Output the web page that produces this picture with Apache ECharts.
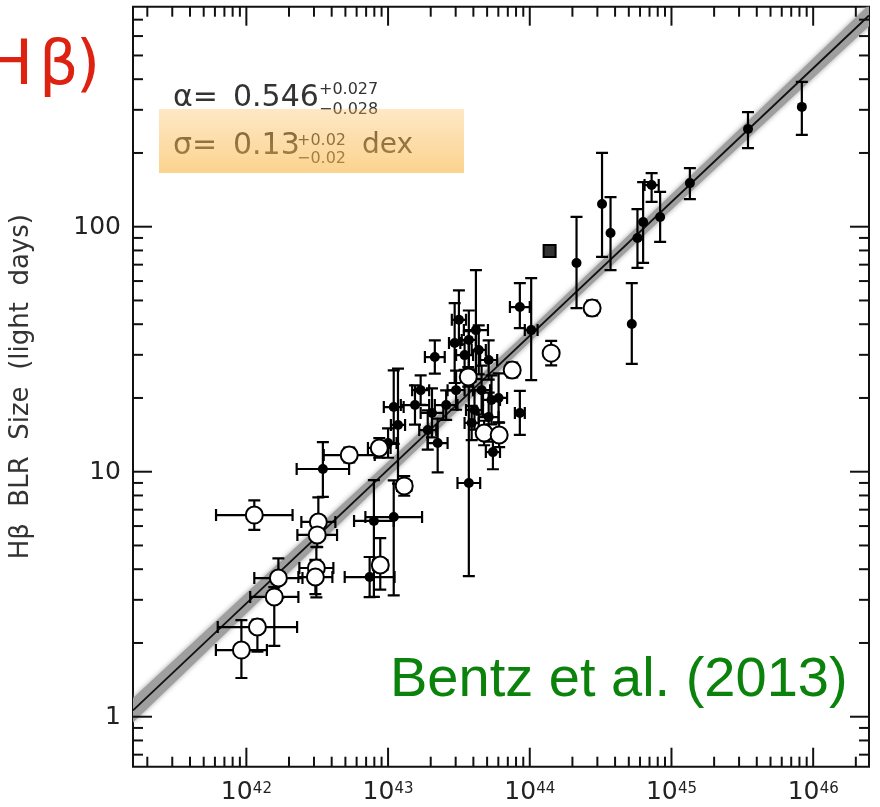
<!DOCTYPE html>
<html>
<head>
<meta charset="utf-8">
<title>Hβ BLR size – luminosity relation</title>
<script src="https://cdn.jsdelivr.net/npm/echarts@6/dist/echarts.min.js"></script>
<style>
  html, body { margin: 0; padding: 0; background: #fff; }
  #chart { width: 880px; height: 807px; }
</style>
</head>
<body>
<div id="chart"></div>
<script>
// Axis extents, in log10 units
const LOG_L_MIN = 41.2, LOG_L_MAX = 46.394;
const LOG_R_MIN = -0.204, LOG_R_MAX = 2.898;

// Tick labels
const xTickExponents = [42, 43, 44, 45, 46];
const yTickLogValues = [0, 1, 2];
const yTickLabels = ['1', '10', '100'];

// Measurements: [log L, ±dex in L, log R (light days), dex below, dex above]
const filledPoints = [
  [45.92, 0.00, 2.489, 0.114, 0.102],
  [45.54, 0.00, 2.399, 0.078, 0.069],
  [45.13, 0.00, 2.178, 0.065, 0.061],
  [44.92, 0.00, 2.040, 0.102, 0.102],
  [44.86, 0.05, 2.170, 0.069, 0.049],
  [44.80, 0.00, 2.019, 0.167, 0.163],
  [44.76, 0.00, 1.954, 0.122, 0.118],
  [44.57, 0.00, 1.974, 0.151, 0.147],
  [44.51, 0.00, 2.093, 0.216, 0.208],
  [44.33, 0.00, 1.852, 0.184, 0.188],
  [44.72, 0.00, 1.603, 0.163, 0.167],
  [43.93, 0.07, 1.672, 0.086, 0.098],
  [44.01, 0.045, 1.578, 0.204, 0.212],
  [43.93, 0.035, 1.240, 0.090, 0.090],
  [42.54, 0.185, 1.011, 0.114, 0.110],
  [42.90, 0.14, 0.799, 0.310, 0.167],
  [43.04, 0.20, 0.815, 0.320, 0.150],
  [42.87, 0.176, 0.570, 0.082, 0.082],
  [43.04, 0.07, 1.264, 0.150, 0.150],
  [43.33, 0.07, 1.468, 0.068, 0.068],
  [43.47, 0.04, 1.525, 0.163, 0.163],
  [43.62, 0.085, 1.578, 0.200, 0.245],
  [43.57, 0.05, 1.538, 0.120, 0.120],
  [43.64, 0.05, 1.497, 0.100, 0.100],
  [43.71, 0.06, 1.456, 0.080, 0.080],
  [43.54, 0.06, 1.476, 0.060, 0.060],
  [43.66, 0.06, 1.333, 0.100, 0.100],
  [43.61, 0.06, 1.252, 0.080, 0.080],
  [43.71, 0.07, 1.223, 0.100, 0.100],
  [43.59, 0.05, 1.199, 0.070, 0.070],
  [43.73, 0.06, 1.293, 0.100, 0.100],
  [43.57, 0.08, 0.954, 0.380, 0.620],
  [43.19, 0.10, 1.272, 0.080, 0.080],
  [43.31, 0.08, 1.240, 0.100, 0.100],
  [43.28, 0.06, 1.170, 0.080, 0.080],
  [43.35, 0.07, 1.117, 0.120, 0.100],
  [43.00, 0.06, 1.117, 0.060, 0.060],
  [43.07, 0.05, 1.191, 0.240, 0.230],
  [43.78, 0.06, 1.301, 0.100, 0.100],
  [43.74, 0.05, 1.080, 0.070, 0.070],
  [43.48, 0.06, 1.333, 0.080, 0.080],
  [43.41, 0.08, 1.272, 0.060, 0.060],
  [43.23, 0.06, 1.333, 0.060, 0.060],
  [43.50, 0.05, 1.620, 0.100, 0.120]
];

const openPoints = [
  [41.965, 0.18, 0.272, 0.114, 0.122],
  [42.078, 0.28, 0.366, 0.100, 0.030],
  [42.226, 0.17, 0.566, 0.080, 0.080],
  [42.197, 0.17, 0.489, 0.200, 0.040],
  [42.056, 0.27, 0.823, 0.060, 0.060],
  [42.508, 0.12, 0.795, 0.060, 0.100],
  [42.500, 0.14, 0.742, 0.050, 0.050],
  [42.494, 0.12, 0.607, 0.120, 0.086],
  [42.487, 0.12, 0.570, 0.070, 0.070],
  [42.945, 0.05, 0.619, 0.100, 0.110],
  [42.726, 0.18, 1.068, 0.030, 0.030],
  [42.938, 0.08, 1.097, 0.040, 0.040],
  [43.114, 0.05, 0.942, 0.040, 0.040],
  [43.566, 0.05, 1.387, 0.040, 0.040],
  [43.678, 0.04, 1.158, 0.050, 0.050],
  [43.784, 0.04, 1.150, 0.050, 0.050],
  [43.876, 0.03, 1.415, 0.030, 0.030],
  [44.151, 0.03, 1.484, 0.050, 0.050],
  [44.440, 0.03, 1.668, 0.030, 0.030]
];

const squarePoints = [
  [44.14, 0.02, 1.901, 0.02, 0.02]
];

// Best fit: log R = K + alpha * (log L - 44)
const fitAlpha = 0.546;
const fitK = 1.555;
const fitLogL = [LOG_L_MIN, LOG_L_MAX];
// Shaded uncertainty around the fit (half width in dex)
const bandLogL = [41.2, 42.0, 43.0, 44.0, 45.0, 46.0, 46.4];
const bandHalfWidth = [0.05, 0.042, 0.032, 0.026, 0.032, 0.04, 0.044];

const fitAt = l => fitK + fitAlpha * (l - 44);

// ---- tick positions (major at decades, minor at 2..9) ----
function decadeTicks(axisId, lo, hi) {
  const rows = [];
  for (let d = Math.floor(lo) - 1; d <= Math.ceil(hi); d++) {
    for (let k = 1; k <= 9; k++) {
      const v = d + Math.log10(k);
      if (v >= lo - 1e-9 && v <= hi + 1e-9) rows.push([axisId, v, k === 1 ? 1 : 0]);
    }
  }
  return rows;
}
const tickRows = decadeTicks(0, LOG_L_MIN, LOG_L_MAX).concat(decadeTicks(1, LOG_R_MIN, LOG_R_MAX));

const FONT = '"DejaVu Sans", "Liberation Sans", sans-serif';

function renderTick(params, api) {
  const cs = params.coordSys;
  const axisId = api.value(0), v = api.value(1), major = api.value(2);
  const len = major ? 19 : 10;
  const st = { stroke: '#111', lineWidth: 2 };
  if (axisId === 0) {
    const x = api.coord([v, LOG_R_MIN])[0];
    const yb = cs.y + cs.height, yt = cs.y;
    return { type: 'group', children: [
      { type: 'line', shape: { x1: x, y1: yb, x2: x, y2: yb - len }, style: st },
      { type: 'line', shape: { x1: x, y1: yt, x2: x, y2: yt + len }, style: st }
    ]};
  }
  const y = api.coord([LOG_L_MIN, v])[1];
  const xl = cs.x, xr = cs.x + cs.width;
  return { type: 'group', children: [
    { type: 'line', shape: { x1: xl, y1: y, x2: xl + len, y2: y }, style: st },
    { type: 'line', shape: { x1: xr, y1: y, x2: xr - len, y2: y }, style: st }
  ]};
}

function renderXLabel(params, api) {
  const e = api.value(0);
  const p = api.coord([e, LOG_R_MIN]);
  return { type: 'group', children: [
    { type: 'text', x: p[0] - 25.5, y: p[1] + 26,
      style: { text: '10', font: '25px ' + FONT, fill: '#222', align: 'left', verticalAlign: 'middle' } },
    { type: 'text', x: p[0] + 6.5, y: p[1] + 22,
      style: { text: String(e), font: '15px ' + FONT, fill: '#222', align: 'left', verticalAlign: 'middle' } }
  ]};
}

function renderYLabel(params, api) {
  const v = api.value(0);
  const p = api.coord([LOG_L_MIN, v]);
  return { type: 'text', x: p[0] - 12, y: p[1] + 1,
    style: { text: yTickLabels[params.dataIndex], font: '25px ' + FONT, fill: '#222', align: 'right', verticalAlign: 'middle' } };
}

function renderErrorBar(params, api) {
  const x = api.value(0), dx = api.value(1), y = api.value(2), lo = api.value(3), hi = api.value(4);
  const c = api.coord([x, y]);
  const st = { stroke: '#000', lineWidth: 2.2 };
  const cap = 6;
  const kids = [];
  if (lo > 0 || hi > 0) {
    const t = api.coord([x, y + hi])[1], b = api.coord([x, y - lo])[1];
    kids.push({ type: 'line', shape: { x1: c[0], y1: t, x2: c[0], y2: b }, style: st });
    kids.push({ type: 'line', shape: { x1: c[0] - cap, y1: t, x2: c[0] + cap, y2: t }, style: st });
    kids.push({ type: 'line', shape: { x1: c[0] - cap, y1: b, x2: c[0] + cap, y2: b }, style: st });
  }
  if (dx > 0) {
    const l = api.coord([x - dx, y])[0], r = api.coord([x + dx, y])[0];
    kids.push({ type: 'line', shape: { x1: l, y1: c[1], x2: r, y2: c[1] }, style: st });
    kids.push({ type: 'line', shape: { x1: l, y1: c[1] - cap, x2: l, y2: c[1] + cap }, style: st });
    kids.push({ type: 'line', shape: { x1: r, y1: c[1] - cap, x2: r, y2: c[1] + cap }, style: st });
  }
  return { type: 'group', children: kids };
}

const bandRows = bandLogL.map((l, i) => [l, fitAt(l) - bandHalfWidth[i], fitAt(l) + bandHalfWidth[i]]);
function renderBand(params, api) {
  if (params.dataIndex !== 0) return null;
  const upper = bandRows.map(r => api.coord([r[0], r[2]]));
  const lower = bandRows.map(r => api.coord([r[0], r[1]])).reverse();
  return { type: 'polygon', shape: { points: upper.concat(lower) },
    style: { fill: '#9f9f9f', shadowBlur: 5, shadowColor: 'rgba(150,150,150,0.9)' } };
}

const chart = echarts.init(document.getElementById('chart'), null, { renderer: 'canvas' });

const option = {
  animation: false,
  backgroundColor: '#fff',
  grid: { left: 131.7, right: 11, top: 6.7, bottom: 40.3, show: true, borderColor: '#111', borderWidth: 2, backgroundColor: 'transparent' },
  xAxis: {
    type: 'value', min: LOG_L_MIN, max: LOG_L_MAX,
    axisLine: { show: false }, axisTick: { show: false }, axisLabel: { show: false }, splitLine: { show: false }
  },
  yAxis: {
    type: 'value', min: LOG_R_MIN, max: LOG_R_MAX,
    name: 'Hβ  BLR  Size  (light  days)', nameLocation: 'middle', nameGap: 99,
    nameTextStyle: { fontFamily: 'DejaVu Sans', fontSize: 26, color: '#333' },
    axisLine: { show: false }, axisTick: { show: false }, axisLabel: { show: false }, splitLine: { show: false }
  },
  series: [
    { type: 'custom', name: 'band', renderItem: renderBand, data: bandRows, clip: true, silent: true, z: 1,
      encode: { x: 0, y: [1, 2] } },
    { type: 'line', name: 'fit', data: fitLogL.map(l => [l, fitAt(l)]), showSymbol: false, silent: true, z: 2,
      lineStyle: { color: '#111', width: 1.8 }, clip: true },
    { type: 'custom', name: 'errors', renderItem: renderErrorBar, silent: true, z: 3, clip: true,
      data: filledPoints.concat(openPoints, squarePoints), encode: { x: 0, y: 2 } },
    { type: 'scatter', name: 'filled', data: filledPoints.map(r => [r[0], r[2]]), symbol: 'circle', symbolSize: 10,
      itemStyle: { color: '#000', opacity: 1 }, silent: true, z: 4 },
    { type: 'scatter', name: 'open', data: openPoints.map(r => [r[0], r[2]]), symbol: 'circle', symbolSize: 17,
      itemStyle: { color: '#fff', borderColor: '#000', borderWidth: 2, opacity: 1 }, silent: true, z: 5 },
    { type: 'scatter', name: 'square', data: squarePoints.map(r => [r[0], r[2]]), symbol: 'rect', symbolSize: 12,
      itemStyle: { color: '#333', borderColor: '#000', borderWidth: 2, opacity: 1 }, silent: true, z: 5 },
    { type: 'custom', name: 'ticks', renderItem: renderTick, data: tickRows, clip: false, silent: true, z: 6,
      encode: { x: 1, y: 1 } },
    { type: 'custom', name: 'xlabels', renderItem: renderXLabel, data: xTickExponents.map(e => [e]), clip: false, silent: true, z: 6,
      encode: { x: 0 } },
    { type: 'custom', name: 'ylabels', renderItem: renderYLabel, data: yTickLogValues.map(v => [v]), clip: false, silent: true, z: 6,
      encode: { y: 0 } }
  ],
  graphic: [
    // slope annotation
    { type: 'text', x: 173, y: 98, z: 100, style: { text: 'α=', font: '30px ' + FONT, fill: '#333', verticalAlign: 'middle' } },
    { type: 'text', x: 233, y: 98, z: 100, style: { text: '0.546', font: '30px ' + FONT, fill: '#333', verticalAlign: 'middle' } },
    { type: 'text', x: 319, y: 90, z: 100, style: { text: '+0.027', font: '16px ' + FONT, fill: '#333', verticalAlign: 'middle' } },
    { type: 'text', x: 319, y: 110, z: 100, style: { text: '−0.028', font: '16px ' + FONT, fill: '#333', verticalAlign: 'middle' } },
    // scatter annotation
    { type: 'text', x: 173, y: 146, z: 100, style: { text: 'σ=', font: '30px ' + FONT, fill: '#222', verticalAlign: 'middle' } },
    { type: 'text', x: 233, y: 146, z: 100, style: { text: '0.13', font: '30px ' + FONT, fill: '#222', verticalAlign: 'middle' } },
    { type: 'text', x: 297, y: 141, z: 100, style: { text: '+0.02', font: '16px ' + FONT, fill: '#222', verticalAlign: 'middle' } },
    { type: 'text', x: 297, y: 159, z: 100, style: { text: '−0.02', font: '16px ' + FONT, fill: '#222', verticalAlign: 'middle' } },
    { type: 'text', x: 362, y: 146, z: 100, style: { text: 'dex', font: '28px ' + FONT, fill: '#222', verticalAlign: 'middle' } },
    // highlight box
    { type: 'rect', z: 101, shape: { x: 159, y: 109, width: 305, height: 64 },
      style: { fill: new echarts.graphic.LinearGradient(0, 0, 0, 1, [
        { offset: 0, color: 'rgba(250,190,90,0.35)' },
        { offset: 1, color: 'rgba(250,190,90,0.68)' }
      ]) } },
    // red heading fragment
    { type: 'text', x: 33, y: 68, z: 102, style: { text: 'H', font: '62px ' + FONT, fill: '#dd2211', align: 'right', verticalAlign: 'middle' } },
    { type: 'text', x: 39, y: 68, z: 102, style: { text: 'β', font: '62px ' + FONT, fill: '#dd2211', align: 'left', verticalAlign: 'middle' } },
    { type: 'text', x: 76, y: 68, z: 102, style: { text: ')', font: '62px ' + FONT, fill: '#dd2211', align: 'left', verticalAlign: 'middle' } },
    // reference
    { type: 'text', x: 390, y: 681, z: 102, style: { text: 'Bentz et al. (2013)', font: '56px "Liberation Sans", sans-serif', fill: '#0b820b', align: 'left', verticalAlign: 'middle' } }
  ]
};

chart.setOption(option);
</script>
</body>
</html>
